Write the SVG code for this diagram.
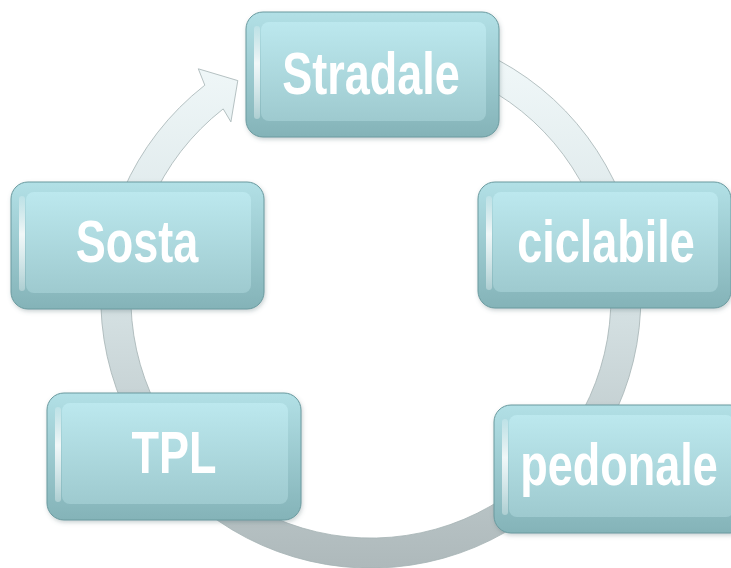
<svg xmlns="http://www.w3.org/2000/svg" width="731" height="568" viewBox="0 0 731 568">
  <defs>
    <linearGradient id="ringGrad" gradientUnits="userSpaceOnUse" x1="0" y1="30" x2="0" y2="568">
      <stop offset="0" stop-color="#f3fafb"/>
      <stop offset="0.5" stop-color="#d6e2e4"/>
      <stop offset="1" stop-color="#aeb9bb"/>
    </linearGradient>
    <linearGradient id="outerGrad" x1="0" y1="0" x2="0" y2="1">
      <stop offset="0" stop-color="#b2e0e6"/>
      <stop offset="1" stop-color="#84b3b8"/>
    </linearGradient>
    <linearGradient id="faceGrad" x1="0" y1="0" x2="0" y2="1">
      <stop offset="0" stop-color="#bce8ee"/>
      <stop offset="1" stop-color="#9ecacf"/>
    </linearGradient>
    <linearGradient id="hiGrad" x1="0" y1="0" x2="0" y2="1">
      <stop offset="0" stop-color="#ffffff" stop-opacity="0.2"/>
      <stop offset="0.4" stop-color="#ffffff" stop-opacity="0.85"/>
      <stop offset="1" stop-color="#ffffff" stop-opacity="0.3"/>
    </linearGradient>
    <filter id="shadow" x="-10%" y="-10%" width="120%" height="130%">
      <feDropShadow dx="1" dy="2" stdDeviation="2" flood-color="#506a6d" flood-opacity="0.3"/>
    </filter>
    <style>
      .outer { fill: url(#outerGrad); stroke: #6a9a9f; stroke-width: 1; }
      .face { fill: url(#faceGrad); }
      .hi { fill: url(#hiGrad); }
      .lbl { fill: #ffffff; font-family: "Liberation Sans", Arial, sans-serif; font-weight: bold; font-size: 60px; text-anchor: middle; }
    </style>
  </defs>

  <g id="connectors">
    <path d="M 269.9 47.7 A 270 270 0 1 1 204.8 85.2 L 198.3 68.8 L 237.8 80.6 L 230.9 121.9 L 223.2 108.9 A 240 240 0 1 0 281.1 75.5 Z"
          fill="url(#ringGrad)" stroke="#a4b2b4" stroke-width="0.8"/>
  </g>

  <g id="node-stradale" filter="url(#shadow)">
    <rect class="outer" x="246" y="12" width="253" height="125" rx="17"/>
    <rect class="face" x="261" y="22" width="225" height="99" rx="8"/>
    <rect class="hi" x="254" y="26" width="6" height="93" rx="3"/>
    <text class="lbl" transform="translate(371,94) scale(0.75,1)">Stradale</text>
  </g>

  <g id="node-ciclabile" filter="url(#shadow)">
    <rect class="outer" x="478" y="182" width="253" height="126" rx="17"/>
    <rect class="face" x="493" y="192" width="225" height="100" rx="8"/>
    <rect class="hi" x="486" y="196" width="6" height="94" rx="3"/>
    <text class="lbl" transform="translate(606,262) scale(0.75,1)">ciclabile</text>
  </g>

  <g id="node-pedonale" filter="url(#shadow)">
    <rect class="outer" x="494" y="405" width="253" height="128" rx="17"/>
    <rect class="face" x="509" y="415" width="225" height="102" rx="8"/>
    <rect class="hi" x="502" y="419" width="6" height="96" rx="3"/>
    <text class="lbl" transform="translate(619,485) scale(0.75,1)">pedonale</text>
  </g>

  <g id="node-tpl" filter="url(#shadow)">
    <rect class="outer" x="47" y="393" width="254" height="127" rx="17"/>
    <rect class="face" x="62" y="403" width="226" height="101" rx="8"/>
    <rect class="hi" x="55" y="407" width="6" height="95" rx="3"/>
    <text class="lbl" transform="translate(174,473) scale(0.75,1)">TPL</text>
  </g>

  <g id="node-sosta" filter="url(#shadow)">
    <rect class="outer" x="11" y="182" width="253" height="127" rx="17"/>
    <rect class="face" x="26" y="192" width="225" height="101" rx="8"/>
    <rect class="hi" x="19" y="196" width="6" height="95" rx="3"/>
    <text class="lbl" transform="translate(137,262) scale(0.75,1)">Sosta</text>
  </g>
</svg>
